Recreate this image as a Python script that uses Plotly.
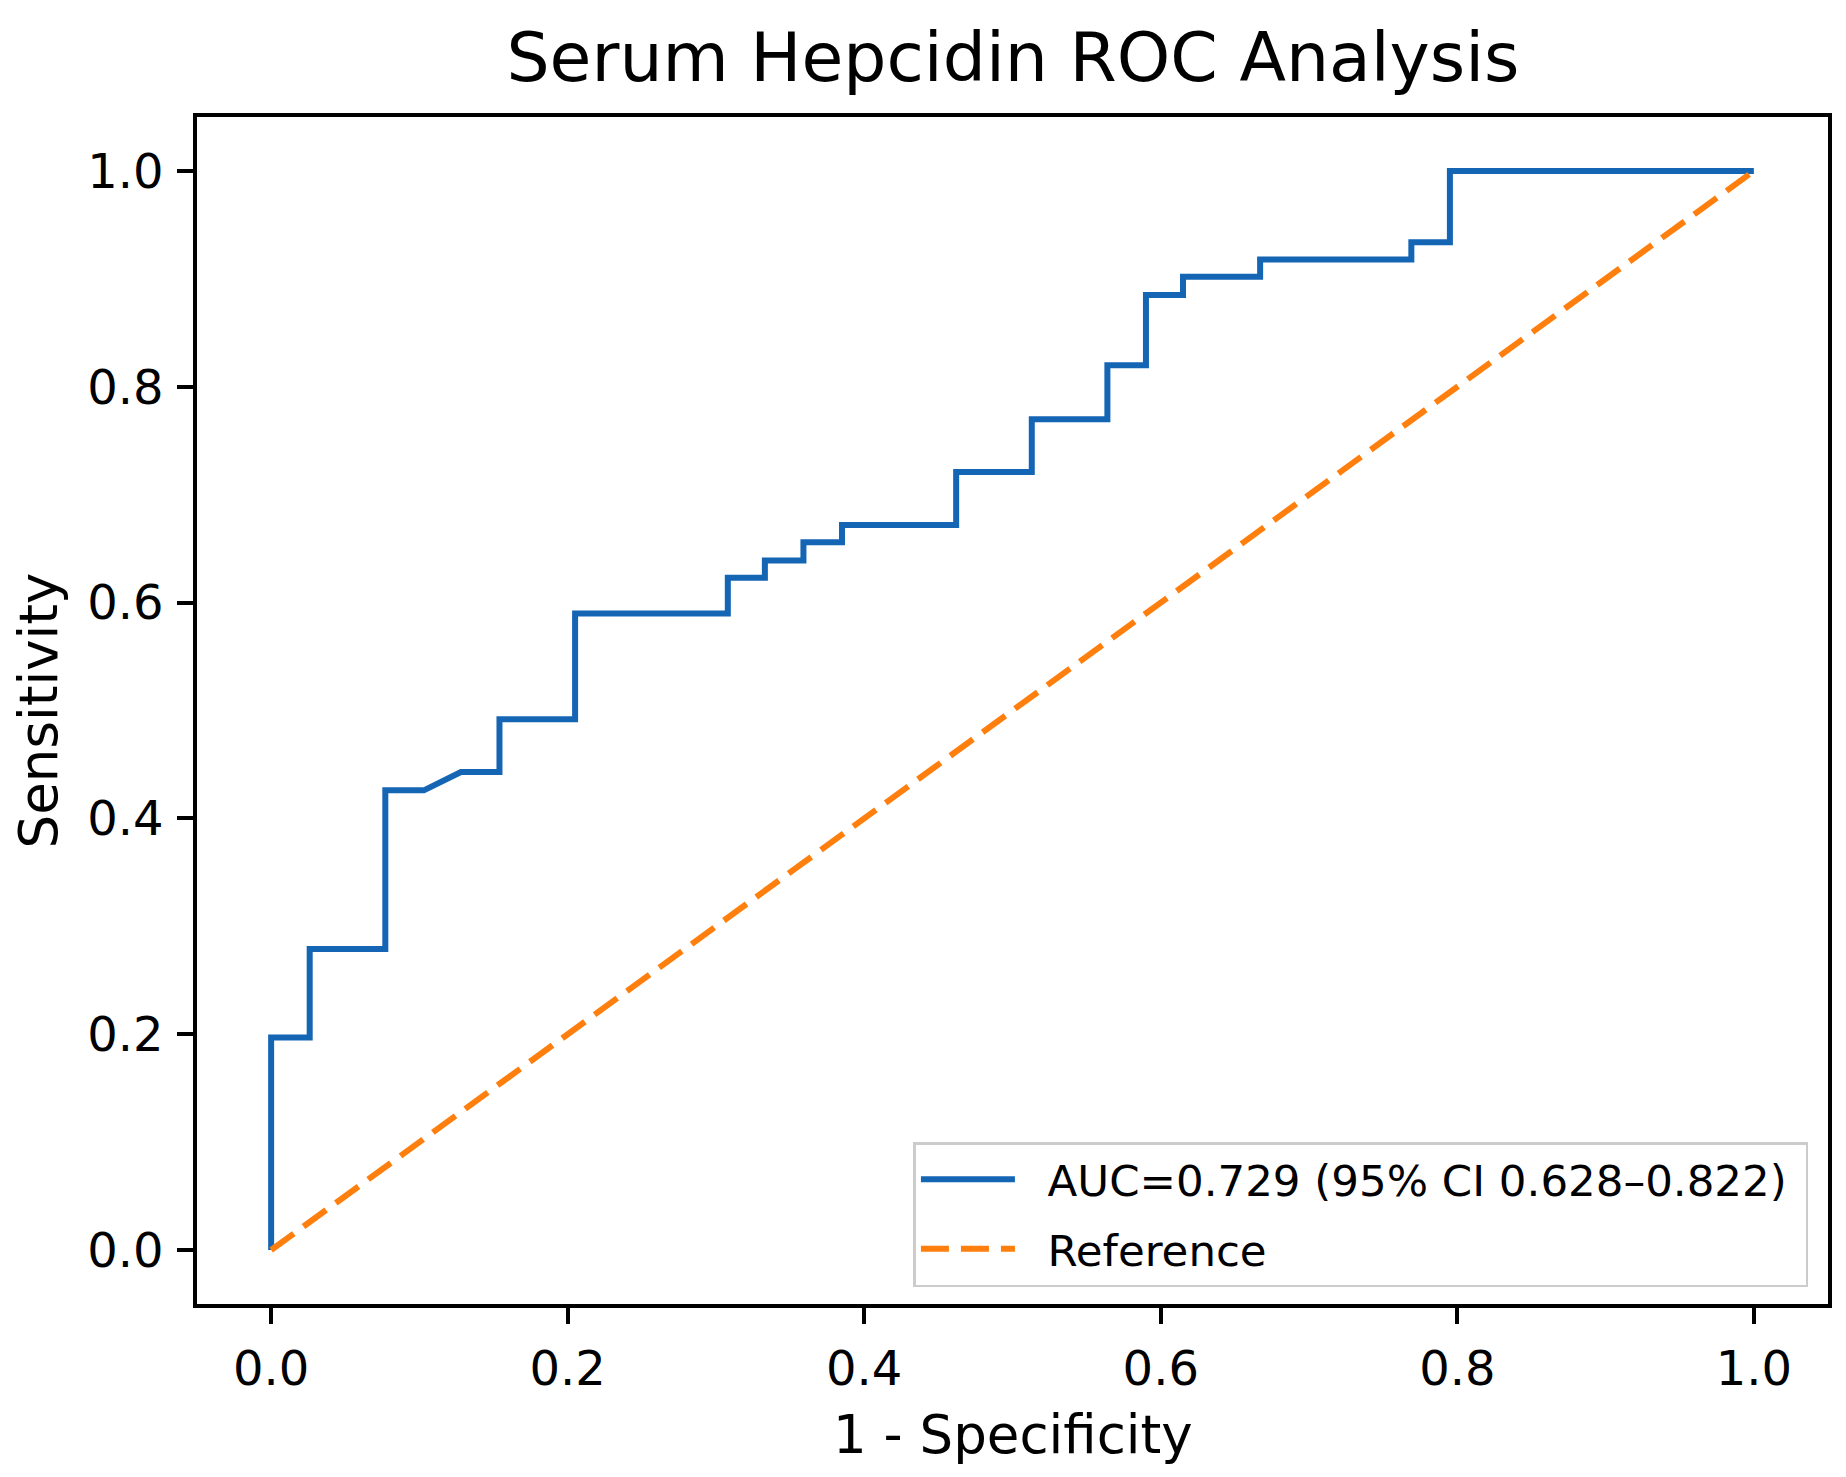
import plotly.graph_objects as go

# ROC curve points (1 - specificity, sensitivity)
roc_fpr = [0.0, 0.0, 0.026, 0.026, 0.077, 0.077, 0.103, 0.128, 0.154, 0.154,
           0.205, 0.205, 0.308, 0.308, 0.333, 0.333, 0.359, 0.359, 0.385, 0.385,
           0.462, 0.462, 0.513, 0.513, 0.564, 0.564, 0.590, 0.590, 0.615, 0.615,
           0.667, 0.667, 0.769, 0.769, 0.795, 0.795, 1.0]
roc_tpr = [0.0, 0.197, 0.197, 0.279, 0.279, 0.426, 0.426, 0.443, 0.443, 0.492,
           0.492, 0.590, 0.590, 0.623, 0.623, 0.639, 0.639, 0.656, 0.656, 0.672,
           0.672, 0.721, 0.721, 0.770, 0.770, 0.820, 0.820, 0.885, 0.885, 0.902,
           0.902, 0.918, 0.918, 0.934, 0.934, 1.0, 1.0]
ref_x = [0.0, 1.0]
ref_y = [0.0, 1.0]

roc_label = "AUC=0.729 (95% CI 0.628\u20130.822)"
ref_label = "Reference"
tick_vals = [0.0, 0.2, 0.4, 0.6, 0.8, 1.0]

pad = "\u00a0\u00a0"  # gap between legend sample and text

fig = go.Figure()
fig.add_trace(go.Scatter(x=roc_fpr, y=roc_tpr, mode="lines", name=pad + roc_label + "\u00a0",
                         legendgroup="roc",
                         line=dict(color="#1565b5", width=6)))
fig.add_trace(go.Scatter(x=ref_x, y=ref_y, mode="lines", name=pad + ref_label,
                         legendgroup="ref",
                         line=dict(color="#ff7f0e", width=6, dash="28px,12px")))

axis_style = dict(
    showline=True, linecolor="black", linewidth=3.5, mirror=True,
    ticks="outside", ticklen=16, tickwidth=3.5, tickcolor="black",
    showgrid=False, zeroline=False, automargin=False,
    tickvals=tick_vals, tickformat=".1f",
    tickfont=dict(size=48, color="black"),
    range=[-0.05, 1.05],
)

W, H = 1830, 1461
fig.update_layout(
    template="none",
    width=W, height=H,
    margin=dict(l=189, r=10, t=109, b=165),
    paper_bgcolor="white", plot_bgcolor="white",
    font=dict(family="DejaVu Sans", color="black"),
    title=dict(text="Serum Hepcidin ROC Analysis", x=1005 / W,
               xanchor="center", y=1 - 49 / H, yanchor="middle",
               font=dict(size=68, color="black")),
    xaxis=dict(axis_style, ticklabelstandoff=4),
    yaxis=dict(axis_style, ticklabelstandoff=4,
               title=dict(text="Sensitivity", font=dict(size=53), standoff=14)),
    legend=dict(x=0.988, y=0.0143, xanchor="right", yanchor="bottom",
                bgcolor="rgba(255,255,255,0.8)", bordercolor="#cccccc", borderwidth=2.5,
                font=dict(size=43.5, color="black"), itemwidth=94,
                tracegroupgap=10),
    showlegend=True,
)

fig.add_annotation(text="1 - Specificity", xref="paper", yref="paper",
                   x=0.5, y=-0.110, xanchor="center", yanchor="middle",
                   showarrow=False, font=dict(size=53, color="black"))

fig.write_html("out.html")
